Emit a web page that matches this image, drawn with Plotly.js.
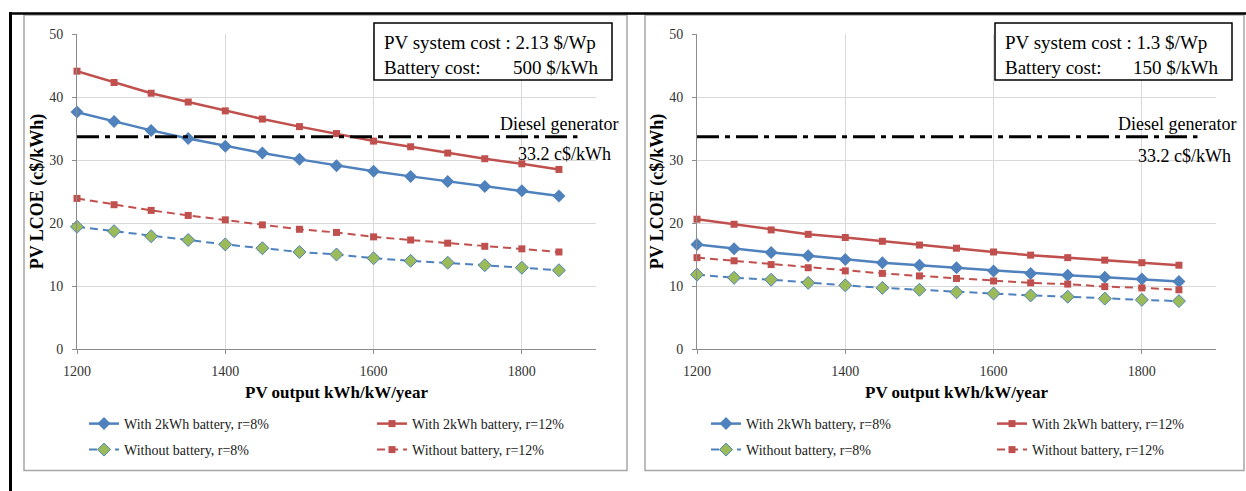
<!DOCTYPE html>
<html><head><meta charset="utf-8">
<script src="https://cdn.plot.ly/plotly-3.0.1.min.js"></script>
<style>html,body{margin:0;padding:0;background:#fff;} #chart{width:1246px;height:491px;}</style>
</head><body><div id="chart"></div>
<script>
// ---------- data ----------
const pvOutput = [1200,1250,1300,1350,1400,1450,1500,1550,1600,1650,1700,1750,1800,1850];

// Left panel: PV 2.13 $/Wp, battery 500 $/kWh
const leftBatt8   = [37.6,36.1,34.7,33.4,32.2,31.1,30.1,29.1,28.2,27.4,26.6,25.8,25.1,24.3];
const leftBatt12  = [44.1,42.3,40.6,39.2,37.8,36.5,35.3,34.2,33.0,32.1,31.1,30.2,29.4,28.5];
const leftNoBatt8 = [19.4,18.7,17.9,17.3,16.6,16.0,15.4,15.0,14.4,14.0,13.7,13.3,12.9,12.5];
const leftNoBatt12= [23.9,22.9,22.0,21.2,20.5,19.7,19.0,18.5,17.8,17.3,16.8,16.3,15.9,15.4];

// Right panel: PV 1.3 $/Wp, battery 150 $/kWh
const rightBatt8   = [16.6,15.9,15.3,14.8,14.2,13.7,13.3,12.9,12.4,12.0,11.7,11.4,11.1,10.7];
const rightBatt12  = [20.6,19.8,18.9,18.2,17.7,17.1,16.5,16.0,15.4,14.9,14.5,14.1,13.7,13.3];
const rightNoBatt8 = [11.8,11.3,11.0,10.5,10.1,9.7,9.4,9.0,8.8,8.5,8.3,8.0,7.8,7.6];
const rightNoBatt12= [14.5,14.0,13.4,12.9,12.4,12.0,11.6,11.2,10.8,10.5,10.3,9.9,9.7,9.4];

// Diesel generator reference line (as drawn)
const dieselX = [1200, 1875];
const dieselLevel = 33.7;

const seriesNames = ["With 2kWh battery, r=8%","With 2kWh battery, r=12%","Without battery, r=8%","Without battery, r=12%"];
const xTicks = [1200,1400,1600,1800];
const yTicks = [0,10,20,30,40,50];
const boxLeft  = ["PV system cost : 2.13 $/Wp","Battery cost:","500 $/kWh"];
const boxRight = ["PV system cost : 1.3 $/Wp","Battery cost:","150 $/kWh"];
const dieselLabel = ["Diesel generator","33.2 c$/kWh"];

// ---------- helpers ----------
const W = 1246, H = 491;
const px = v => v / W;
const py = v => 1 - v / H;
const SERIF = "Liberation Serif";
const BLUE = "#4F81BD", RED = "#C0504D", GREEN = "#9BBB59";

function seriesTraces(xa, ya, data, legends) {
  const styles = [
    {line:{color:BLUE,width:2.5}, marker:{symbol:"diamond",size:10,color:BLUE}},
    {line:{color:RED,width:2.5}, marker:{symbol:"square",size:7,color:RED}},
    {line:{color:BLUE,width:2,dash:"8px,5px"}, marker:{symbol:"diamond",size:10,color:GREEN,line:{color:BLUE,width:1}}},
    {line:{color:RED,width:2,dash:"8px,5px"}, marker:{symbol:"square",size:7,color:RED}}
  ];
  return data.map((ys, i) => Object.assign({
    type:"scatter", mode:"lines+markers", x:pvOutput, y:ys, name:seriesNames[i],
    xaxis:xa, yaxis:ya, legend:legends[i], cliponaxis:false, hoverinfo:"x+y+name"
  }, styles[i]));
}
function dieselTrace(xa, ya) {
  return {type:"scatter", mode:"lines", x:dieselX, y:[dieselLevel, dieselLevel], xaxis:xa, yaxis:ya,
    line:{color:"#000", width:3, dash:"22px,6px,5px,6px"}, showlegend:false, hoverinfo:"skip", name:"Diesel generator"};
}

const traces = [
  ...seriesTraces("x","y",[leftBatt8,leftBatt12,leftNoBatt8,leftNoBatt12],["legend","legend2","legend3","legend4"]),
  ...seriesTraces("x2","y2",[rightBatt8,rightBatt12,rightNoBatt8,rightNoBatt12],["legend5","legend6","legend7","legend8"]),
  dieselTrace("x","y"), dieselTrace("x2","y2")
];

function xAxis(x0, x1, anchor) {
  return {domain:[px(x0),px(x1)], anchor:anchor, range:[1200,1900], tickmode:"array", tickvals:xTicks,
    showgrid:true, gridcolor:"#d9d9d9", gridwidth:1, showline:true, linecolor:"#8c8c8c", linewidth:1,
    ticks:"outside", ticklen:4, tickcolor:"#8c8c8c", zeroline:false, ticklabelstandoff:5,
    tickfont:{family:SERIF, size:14, color:"#333"},
    title:{text:"PV output kWh/kW/year", font:{family:SERIF, size:17, color:"#000", weight:"bold"}, standoff:8}};
}
function yAxis(anchor) {
  return {domain:[py(349),py(34)], anchor:anchor, range:[0,50], tickmode:"array", tickvals:yTicks,
    showgrid:true, gridcolor:"#d9d9d9", gridwidth:1, showline:true, linecolor:"#8c8c8c", linewidth:1,
    ticks:"outside", ticklen:4, tickcolor:"#8c8c8c", zeroline:false, ticklabelstandoff:6,
    tickfont:{family:SERIF, size:14, color:"#333"},
    title:{text:"PV LCOE (c$/kWh)", font:{family:SERIF, size:18, color:"#000", weight:"bold"}, standoff:0}};
}
function legendAt(xPix, yPix) {
  return {x:px(xPix), y:py(yPix), xanchor:"left", yanchor:"middle", orientation:"h",
    bgcolor:"rgba(0,0,0,0)", borderwidth:0, itemwidth:30, font:{family:SERIF, size:14, color:"#1a1a1a"}};
}

const shapes = [
  // outer black frame lines
  {type:"line", xref:"paper", yref:"paper", x0:px(10.5), x1:px(10.5), y0:py(12), y1:py(491), line:{color:"#000", width:3}},
  {type:"line", xref:"paper", yref:"paper", x0:px(9), x1:px(1246), y0:py(13.5), y1:py(13.5), line:{color:"#000", width:2.5}},
  // gray chart-area boxes
  {type:"rect", xref:"paper", yref:"paper", x0:px(24), x1:px(627), y0:py(15), y1:py(470.5), line:{color:"#a6a6a6", width:1.5}, fillcolor:"rgba(0,0,0,0)", layer:"below"},
  {type:"rect", xref:"paper", yref:"paper", x0:px(645), x1:px(1244), y0:py(15), y1:py(470.5), line:{color:"#a6a6a6", width:1.5}, fillcolor:"rgba(0,0,0,0)", layer:"below"},
  // info boxes
  {type:"rect", xref:"paper", yref:"paper", x0:px(374), x1:px(612), y0:py(23), y1:py(80), line:{color:"#000", width:1.5}, fillcolor:"#fff"},
  {type:"rect", xref:"paper", yref:"paper", x0:px(995), x1:px(1232), y0:py(23), y1:py(80), line:{color:"#000", width:1.5}, fillcolor:"#fff"}
];

function txt(t, xPix, yPix, anchor, size) {
  return {text:t, xref:"paper", yref:"paper", x:px(xPix), y:py(yPix), xanchor:anchor, yanchor:"middle",
    showarrow:false, font:{family:SERIF, size:size||17, color:"#000"}};
}
const annotations = [
  txt(boxLeft[0], 382, 43, "left", 19), txt(boxLeft[1], 382, 67, "left", 19), txt(boxLeft[2], 600, 67, "right", 19),
  txt(boxRight[0], 1003, 43, "left", 19), txt(boxRight[1], 1003, 67, "left", 19), txt(boxRight[2], 1220, 67, "right", 19),
  txt(dieselLabel[0], 620, 124, "right", 18), txt(dieselLabel[1], 613, 154, "right", 18),
  txt(dieselLabel[0], 1238, 124, "right", 18), txt(dieselLabel[1], 1233, 156, "right", 18)
];

const layout = {
  width:W, height:H, margin:{l:0,r:0,t:0,b:0}, paper_bgcolor:"#fff", plot_bgcolor:"#fff",
  showlegend:true, hovermode:"closest",
  xaxis:xAxis(77,596,"y"), yaxis:yAxis("x"),
  xaxis2:xAxis(697,1216,"y2"), yaxis2:yAxis("x2"),
  legend:legendAt(84,424), legend2:legendAt(372,424), legend3:legendAt(84,450), legend4:legendAt(372,450),
  legend5:legendAt(706,424), legend6:legendAt(992,424), legend7:legendAt(706,450), legend8:legendAt(992,450),
  shapes:shapes, annotations:annotations
};
Plotly.newPlot("chart", traces, layout, {displayModeBar:false});
</script></body></html>
